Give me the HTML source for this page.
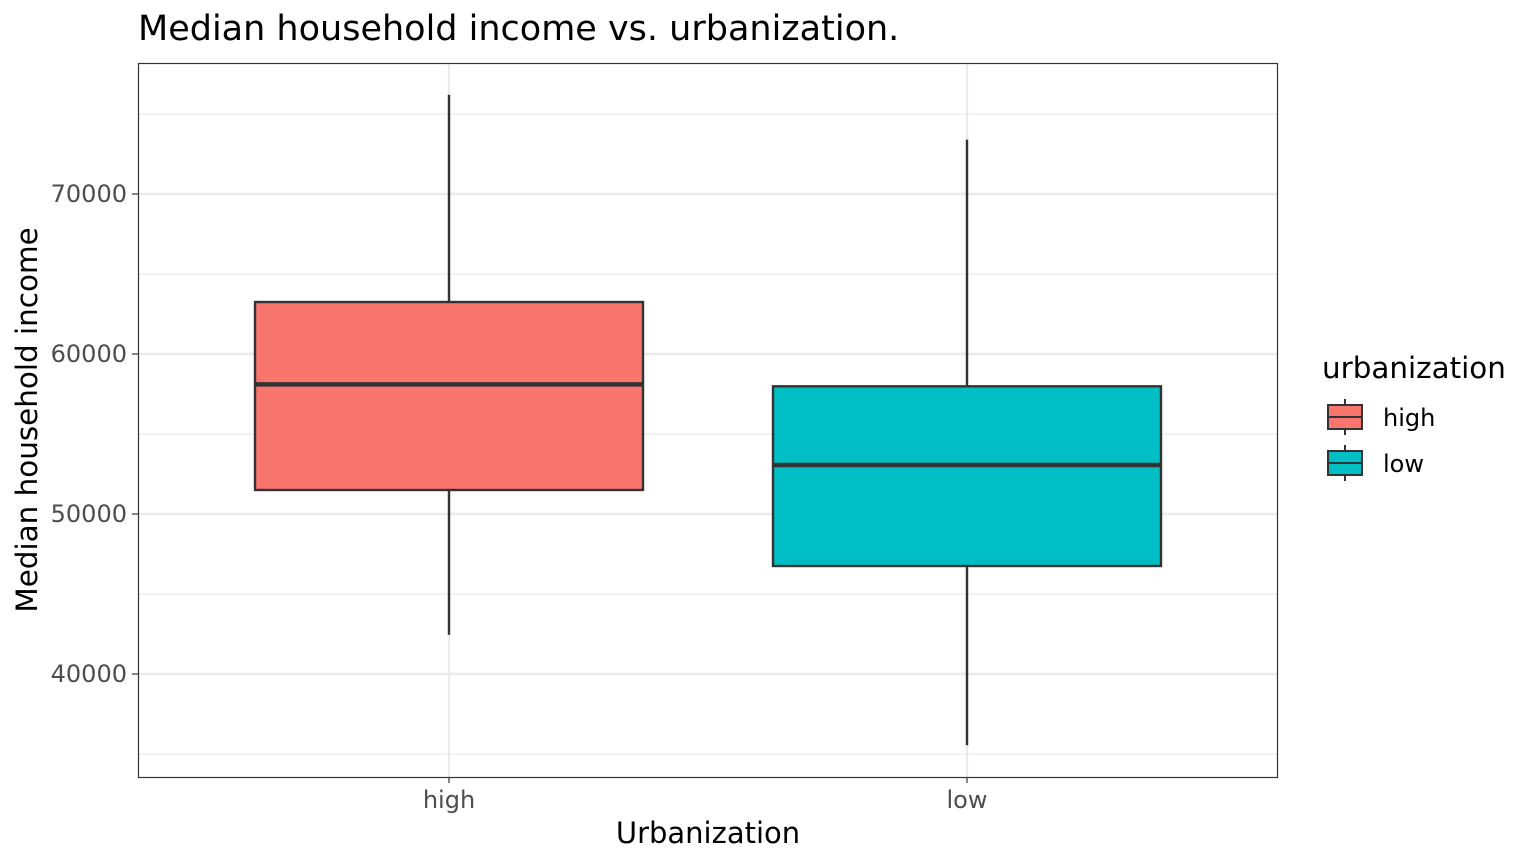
<!DOCTYPE html>
<html><head><meta charset="utf-8"><style>
body{margin:0;background:#fff;}
svg{display:block;font-family:"DejaVu Sans","Liberation Sans",sans-serif;}
</style></head><body>
<svg id="chart" width="1536" height="864" xmlns="http://www.w3.org/2000/svg">
<rect width="1536" height="864" fill="#fff"/>
<text x="138" y="40" font-size="35" fill="#000">Median household income vs. urbanization.</text>
<g id="grid"></g>
<g id="boxes"></g>
<rect x="138.5" y="63.5" width="1139" height="714" fill="none" stroke="#333" stroke-width="1.2"/>
<g id="axes"></g>
<text x="708" y="843" font-size="29" text-anchor="middle" fill="#000">Urbanization</text>
<text transform="translate(37,420) rotate(-90)" font-size="29.4" text-anchor="middle" fill="#000">Median household income</text>
<g id="legend">
<text x="1322" y="378" font-size="29.4" fill="#000">urbanization</text>
</g>
</svg>
<script>
const categories=["high","low"];
const colors=["#F8766D","#00BFC4"];
const whiskerLow=[42450,35550];
const q1=[51500,46750];
const medians=[58100,53060];
const q3=[63250,57980];
const whiskerHigh=[76200,73400];
const yTicks=[40000,50000,60000,70000];
const yMinor=[35000,45000,55000,65000,75000];

const NS="http://www.w3.org/2000/svg";
const y=v=>194+(70000-v)*0.016;
const x=i=>449+i*518;
const bw=388;
function mk(parent,tag,attrs){const e=document.createElementNS(NS,tag);for(const k in attrs)e.setAttribute(k,attrs[k]);document.getElementById(parent).appendChild(e);return e;}
yMinor.forEach(v=>{const l=mk('grid','line',{x1:138,x2:1277,y1:y(v),y2:y(v),stroke:'#ebebeb','stroke-width':1.2});

});
yTicks.forEach(v=>{const l=mk('grid','line',{x1:138,x2:1277,y1:y(v),y2:y(v),stroke:'#ebebeb','stroke-width':2.4});


const t=mk('axes','line',{x1:132,x2:138,y1:y(v),y2:y(v),stroke:'#333','stroke-width':1.2});


const tx=mk('axes','text',{x:127,y:y(v)+8,'font-size':24,'text-anchor':'end',fill:'#4d4d4d'});tx.textContent=v;

});
categories.forEach((c,i)=>{const l=mk('grid','line',{x1:x(i),x2:x(i),y1:63,y2:777,stroke:'#ebebeb','stroke-width':2.4});


const t=mk('axes','line',{x1:x(i),x2:x(i),y1:777,y2:783,stroke:'#333','stroke-width':1.2});


const tx=mk('axes','text',{x:x(i),y:808,'font-size':24,'text-anchor':'middle',fill:'#4d4d4d'});tx.textContent=c;


const w=mk('boxes','line',{x1:x(i),x2:x(i),y1:y(whiskerHigh[i]),y2:y(whiskerLow[i]),stroke:'#333','stroke-width':2.4});


const b=mk('boxes','rect',{x:x(i)-bw/2,y:y(q3[i]),width:bw,height:y(q1[i])-y(q3[i]),fill:colors[i],stroke:'#333','stroke-width':2.4});


const m=mk('boxes','line',{x1:x(i)-bw/2,x2:x(i)+bw/2,y1:y(medians[i]),y2:y(medians[i]),stroke:'#333','stroke-width':4.5});


const ky=403+i*46;
const kw=mk('legend','line',{x1:1345,x2:1345,y1:ky-4,y2:ky+32,stroke:'#333','stroke-width':2});


const kr=mk('legend','rect',{x:1328,y:ky+2,width:34,height:24,fill:colors[i],stroke:'#333','stroke-width':2});


const km=mk('legend','line',{x1:1328,x2:1362,y1:ky+14,y2:ky+14,stroke:'#333','stroke-width':2});


const lt=mk('legend','text',{x:1383,y:ky+23,'font-size':24,fill:'#000'});lt.textContent=c;

});
</script>
</body></html>
